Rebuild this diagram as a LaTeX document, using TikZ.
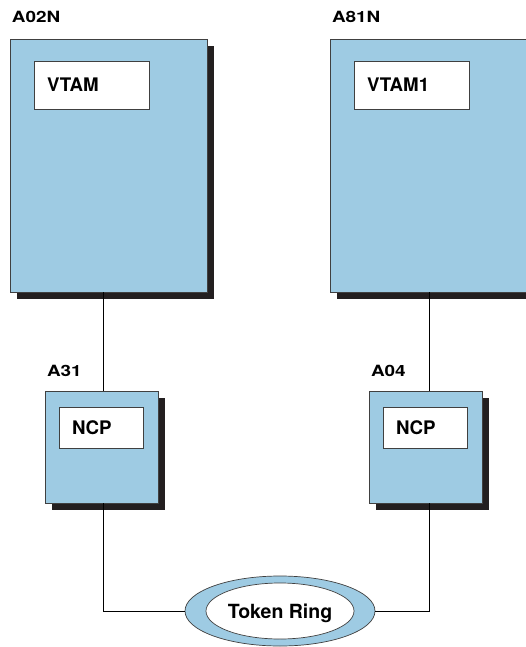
\documentclass[tikz,border=0pt]{standalone}
\usepackage{fontspec}
\setmainfont{TeX Gyre Heros}
\newfontfamily\tagfont[FakeStretch=1.22]{TeX Gyre Heros}
\usepackage{tikz}
\usetikzlibrary{positioning, shadows, shapes.geometric}
\definecolor{hostblue}{RGB}{158,203,227}
\definecolor{shadowblack}{RGB}{35,31,32}

\begin{document}
\begin{tikzpicture}[x=1pt, y=-1pt, line width=0.7pt,
    box/.style={draw=black!75, fill=hostblue, inner sep=0pt,
      drop shadow={shadow xshift=7pt, shadow yshift=-7pt, opacity=1, fill=shadowblack}},
    hostbox/.style={box, minimum width=197pt, minimum height=253pt},
    ncpbox/.style={box, minimum width=113pt, minimum height=112pt},
    namebox/.style={draw=black!75, fill=white, inner xsep=13pt, inner ysep=0pt,
      align=left, text depth=0pt, font=\fontsize{18.7}{18.7}\selectfont\bfseries},
    tag/.style={anchor=base west, inner sep=0pt,
      font=\tagfont\fontsize{15.5}{15.5}\selectfont\bfseries},
    link/.style={draw=black, line width=0.8pt}]
    \useasboundingbox (0,0) rectangle (526,647);
    \clip (0,0) rectangle (526,647);

    % host processors
    \node[hostbox] (a02n) at (108.5,165.5) {};
    \node[hostbox] (a81n) at (428.5,165.5) {};
    \node[tag] (a02n-tag) at ([xshift=2pt, yshift=16pt]a02n.north west) {A02N};
    \node[tag] (a81n-tag) at ([xshift=2pt, yshift=16pt]a81n.north west) {A81N};
    \node[namebox, text width=89pt, minimum height=48pt,
      below right=22pt and 24pt of a02n.north west] (vtam) {VTAM};
    \node[namebox, text width=89pt, minimum height=48pt,
      below right=22pt and 24pt of a81n.north west] (vtam1) {VTAM1};

    % communication controllers
    \node[ncpbox] (a31) at (101.5,447) {};
    \node[ncpbox] (a04) at (425.5,447) {};
    \node[tag] (a31-tag) at ([xshift=2pt, yshift=14pt]a31.north west) {A31};
    \node[tag] (a04-tag) at ([xshift=2pt, yshift=14pt]a04.north west) {A04};
    \node[namebox, text width=58pt, minimum height=41pt,
      below right=16pt and 14pt of a31.north west] (ncp1) {NCP};
    \node[namebox, text width=58pt, minimum height=41pt,
      below right=16pt and 14pt of a04.north west] (ncp2) {NCP};

    % token ring
    \node[ellipse, draw=black!75, fill=hostblue, inner sep=0pt,
      minimum width=190pt, minimum height=70pt] (ring) at (280,611) {};
    \node[ellipse, draw=black!75, fill=white, inner sep=0pt, text depth=0pt,
      minimum width=148pt, minimum height=56pt,
      font=\fontsize{19.5}{19.5}\selectfont\bfseries] (ring-name) at (ring) {Token Ring};

    % links
    \coordinate (tap1) at ([xshift=1.5pt]a31.north);
    \coordinate (tap2) at ([xshift=3.5pt]a04.north);
    \draw[link] (tap1 |- a02n.south) -- (tap1);
    \draw[link] (tap2 |- a81n.south) -- (tap2);
    \draw[link] (tap1 |- a31.south) |- (ring.west);
    \draw[link] (tap2 |- a04.south) |- (ring.east);
\end{tikzpicture}
\end{document}
